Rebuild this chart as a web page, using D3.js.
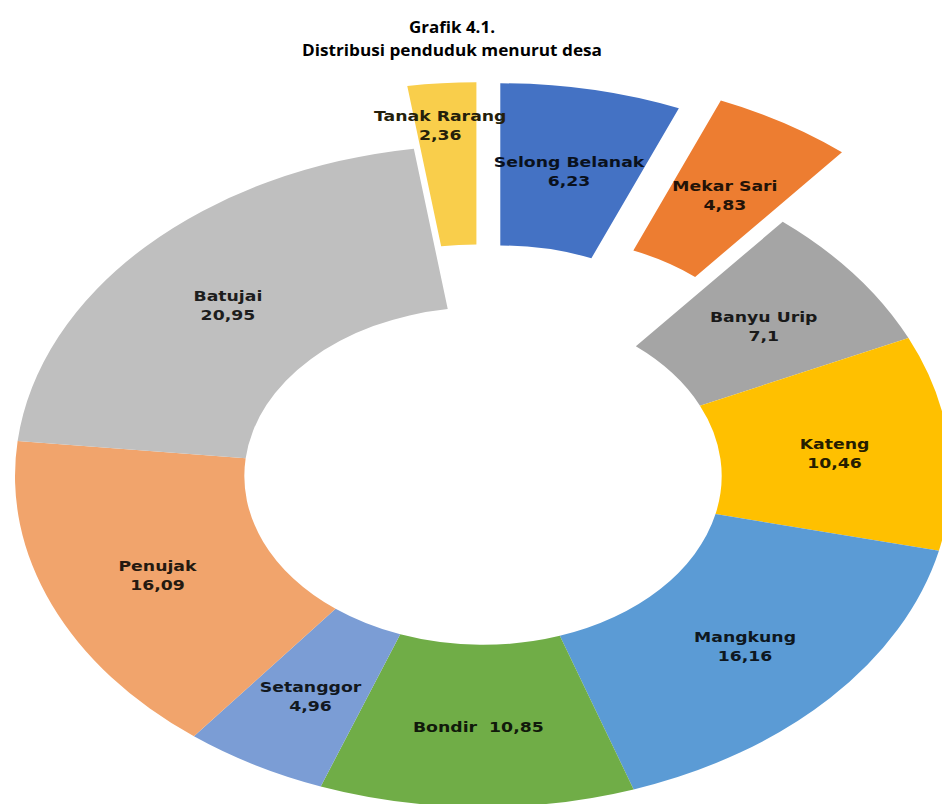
<!DOCTYPE html>
<html>
<head>
<meta charset="utf-8">
<script src="https://cdn.jsdelivr.net/npm/d3@7/dist/d3.min.js"></script>
<style>
  html, body { margin: 0; padding: 0; background: #ffffff; }
  svg { display: block; }
</style>
</head>
<body>
<svg id="chart" width="942" height="804"></svg>
<script>
// ---- data ----
const titleLines = ["Grafik 4.1.", "Distribusi penduduk menurut desa"];
const villages = ["Selong Belanak", "Mekar Sari", "Banyu Urip", "Kateng", "Mangkung",
                  "Bondir", "Setanggor", "Penujak", "Batujai", "Tanak Rarang"];
const shares = [6.23, 4.83, 7.1, 10.46, 16.16, 10.85, 4.96, 16.09, 20.95, 2.36];
const valueLabels = ["6,23", "4,83", "7,1", "10,46", "16,16", "10,85", "4,96", "16,09", "20,95", "2,36"];
const sliceColors = ["#4472C4", "#ED7D31", "#A5A5A5", "#FFC000", "#5B9BD5",
                     "#70AD47", "#7B9DD5", "#F1A46C", "#BFBFBF", "#F9CE4B"];

// ---- layout / style ----
const W = 942, H = 804;
const cx = 483, cy = 476;
const R = 331;              // outer radius (vertical)
const sx = 468 / 331;       // horizontal stretch of the ring
const holeRatio = 0.51;
const explodeBy = {"Selong Belanak": 0.19, "Mekar Sari": 0.245, "Tanak Rarang": 0.19};
const textStretch = 1.28;

const svg = d3.select("#chart");

// title
const titleWidths = [86, 300];
const titleBase = [33, 56];
titleLines.forEach((t, i) => {
  svg.append("text")
    .attr("x", 452).attr("y", titleBase[i])
    .attr("text-anchor", "middle")
    .attr("font-family", "'Open Sans', Lato, sans-serif")
    .attr("font-weight", "bold")
    .attr("font-size", 15.5)
    .attr("fill", "#000")
    .attr("textLength", titleWidths[i])
    .attr("lengthAdjust", "spacingAndGlyphs")
    .text(t);
});

const data = villages.map((v, i) => ({name: v, value: shares[i], label: valueLabels[i], color: sliceColors[i]}));

const pie = d3.pie().sort(null).value(d => d.value).startAngle(0).endAngle(2 * Math.PI);
const arcs = pie(data);

const arc = d3.arc().innerRadius(R * holeRatio).outerRadius(R);

const ring = svg.append("g").attr("transform", `translate(${cx},${cy}) scale(${sx},1)`);

function offsetOf(d) {
  const e = explodeBy[d.data.name] || 0;
  const mid = (d.startAngle + d.endAngle) / 2;
  return [Math.sin(mid) * e * R, -Math.cos(mid) * e * R];
}

ring.selectAll("path.slice")
  .data(arcs)
  .join("path")
  .attr("class", "slice")
  .attr("d", arc)
  .attr("fill", d => d.data.color)
  .attr("transform", d => {
    const [ox, oy] = offsetOf(d);
    return `translate(${ox},${oy})`;
  });

// labels
const labelNudge = {"Tanak Rarang": [-10, -41]};
const labels = svg.append("g");
arcs.forEach(d => {
  const c = arc.centroid(d);
  const [ox, oy] = offsetOf(d);
  const nudge = labelNudge[d.data.name] || [0, 0];
  const x = cx + (c[0] + ox) * sx + nudge[0];
  const y = cy + (c[1] + oy) + nudge[1];
  const fill = d3.interpolateRgb(d.data.color, "#000")(0.85);
  const g = labels.append("g").attr("transform", `translate(${x},${y}) scale(${textStretch},1)`);
  const common = sel => sel
    .attr("text-anchor", "middle")
    .attr("font-family", "'DejaVu Sans', Verdana, sans-serif")
    .attr("font-weight", "bold")
    .attr("font-size", 13.5)
    .attr("fill", fill);
  if (d.data.name === "Bondir") {
    g.append("text").call(common).attr("y", 6)
      .attr("xml:space", "preserve").style("white-space", "pre")
      .text(d.data.name + "  " + d.data.label);
  } else {
    g.append("text").call(common).attr("y", -2).text(d.data.name);
    g.append("text").call(common).attr("y", 17).text(d.data.label);
  }
});
</script>
</body>
</html>
